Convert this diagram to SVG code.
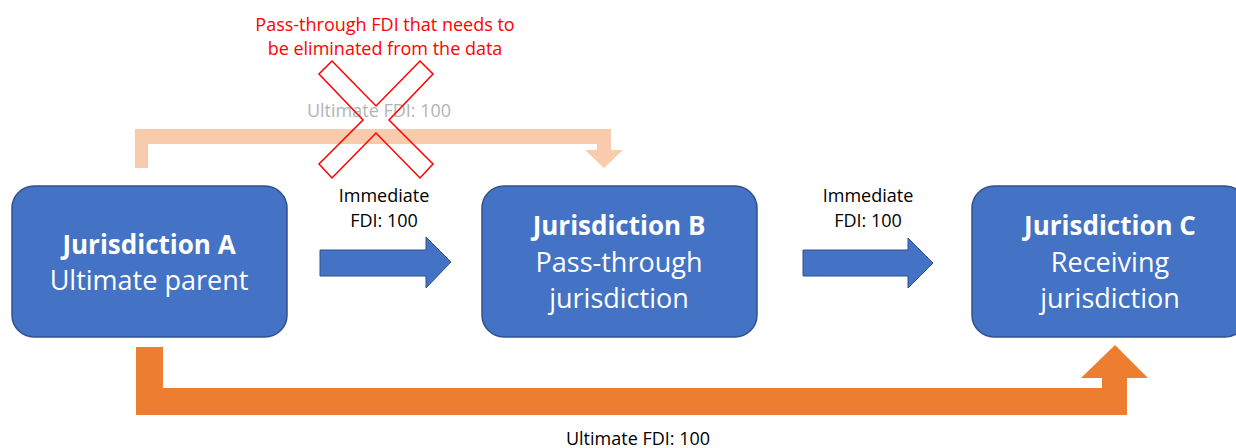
<svg xmlns="http://www.w3.org/2000/svg" width="1236" height="448" viewBox="0 0 1236 448">
<style>
.box{fill:#4472c4;stroke:#2f528f;stroke-width:1.5}
.t{font-family:"Open Sans","Liberation Sans",sans-serif;text-anchor:middle}
.nb{font-size:26px;font-weight:bold;fill:#fff}
.nr{font-size:27px;fill:#fff}
.lbl{font-size:18px;fill:#000}
.blue{fill:#4472c4;stroke:#2f528f;stroke-width:1}
</style>
<rect width="1236" height="448" fill="#fff"/>
<g id="connectors">
<path d="M135,168 V129 H611 V150 H623 L604,168 L585,150 H597 V144 H148 V168 Z" fill="#f8cbad"/>
<path d="M136,347 H163 V388 H1102 V378 H1081 L1115,345 L1148,378 H1127 V415 H136 Z" fill="#ed7d31"/>
<path class="blue" d="M320,250 H426 V237 L451,262 L426,288 V276 H320 Z"/>
<path class="blue" d="M803,250 H908 V238 L933,263 L908,288 V276 H803 Z"/>
<text class="t lbl" x="384" y="202">Immediate</text>
<text class="t lbl" x="384" y="227">FDI: 100</text>
<text class="t lbl" x="868" y="202">Immediate</text>
<text class="t lbl" x="868" y="227">FDI: 100</text>
<text class="t" x="379" y="117" font-size="18" fill="#b4b4b4">Ultimate FDI: 100</text>
<text class="t lbl" x="638" y="445">Ultimate FDI: 100</text>
</g>
<g id="elimination">
<polygon points="332,61 376,106 420,61 433,74 389,120 433,164 420,178 376,133 332,178 319,164 363,120 319,74" fill="none" stroke="#ff0000" stroke-width="1.5"/>
<text class="t" x="385" y="31" font-size="18" fill="#ff0000">Pass-through FDI that needs to</text>
<text class="t" x="385" y="55" font-size="18" fill="#ff0000">be eliminated from the data</text>
</g>
<g id="nodeA">
<rect class="box" x="12" y="186" width="275" height="151" rx="22"/>
<text class="t nb" x="149" y="254">Jurisdiction A</text>
<text class="t nr" x="149" y="290">Ultimate parent</text>
</g>
<g id="nodeB">
<rect class="box" x="482" y="186" width="275" height="151" rx="22"/>
<text class="t nb" x="619" y="235">Jurisdiction B</text>
<text class="t nr" x="619" y="272">Pass-through</text>
<text class="t nr" x="619" y="308">jurisdiction</text>
</g>
<g id="nodeC">
<rect class="box" x="972" y="186" width="275" height="151" rx="22"/>
<text class="t nb" x="1110" y="235">Jurisdiction C</text>
<text class="t nr" x="1110" y="272">Receiving</text>
<text class="t nr" x="1110" y="308">jurisdiction</text>
</g>
</svg>
